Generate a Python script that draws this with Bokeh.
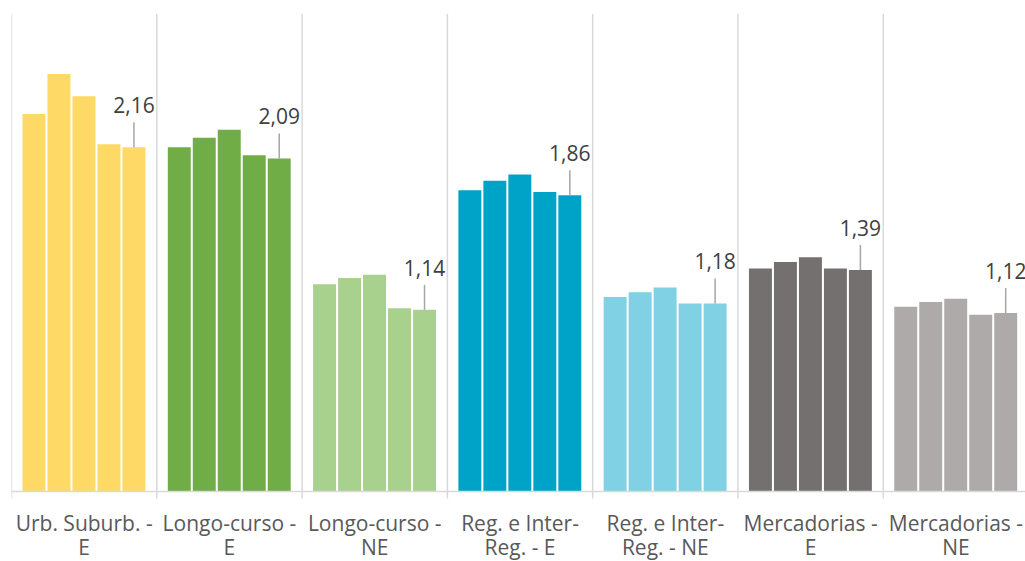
from bokeh.plotting import figure
from bokeh.models import ColumnDataSource, Range1d, Span
from bokeh.embed import file_html
from bokeh.resources import INLINE
from bokeh.core.properties import value

categories = ["Urb. Suburb. -\nE", "Longo-curso -\nE", "Longo-curso -\nNE",
              "Reg. e Inter-\nReg. - E", "Reg. e Inter-\nReg. - NE",
              "Mercadorias -\nE", "Mercadorias -\nNE"]
serie_1 = [2.37, 2.16, 1.30, 1.89, 1.22, 1.40, 1.16]
serie_2 = [2.62, 2.22, 1.34, 1.95, 1.25, 1.44, 1.19]
serie_3 = [2.48, 2.27, 1.36, 1.99, 1.28, 1.47, 1.21]
serie_4 = [2.18, 2.11, 1.15, 1.88, 1.18, 1.40, 1.11]
serie_5 = [2.16, 2.09, 1.14, 1.86, 1.18, 1.39, 1.12]
colors = ["#FFD966", "#70AD47", "#A9D18E", "#00A3C8", "#7FD1E3", "#757070", "#AEAAAA"]

series = [serie_1, serie_2, serie_3, serie_4, serie_5]
n_cat = len(categories)
n_ser = len(series)

Y_MAX = 3.0
FRAME_H = 561 - 13
AXIS_PX = 70                       # space below the axis line
ppu = (FRAME_H - AXIS_PX) / Y_MAX  # pixels per unit
y_lo = -AXIS_PX / ppu

p = figure(width=1025, height=561, output_backend="svg", toolbar_location=None,
           x_range=Range1d(0, 6.979), y_range=Range1d(y_lo, Y_MAX),
           x_axis_location=None, y_axis_location=None,
           min_border_left=11, min_border_right=0,
           min_border_top=13, min_border_bottom=0)
p.outline_line_color = None
p.background_fill_color = "white"
p.border_fill_color = "white"
p.xgrid.grid_line_color = None
p.ygrid.grid_line_color = None

# category separators (grid lines with tick marks below the axis)
bounds = list(range(n_cat + 1))
tick = 7 / ppu
p.segment(x0=bounds, y0=[-tick] * len(bounds), x1=bounds, y1=[Y_MAX] * len(bounds),
          line_color="#D9D9D9", line_width=1.5)
p.add_layout(Span(location=0, dimension="width", line_color="#D9D9D9", line_width=1.5))

# bar geometry inside each category (fractions of the category width)
pad = 0.0757
step = 0.172
bw = 0.158

xs, tops, cols = [], [], []
for i in range(n_cat):
    for j, s in enumerate(series):
        xs.append(i + pad + bw / 2 + j * step)
        tops.append(s[i])
        cols.append(colors[i])
src = ColumnDataSource(dict(x=xs, top=tops, color=cols))
p.vbar(x="x", top="top", width=bw, bottom=0, fill_color="color", line_color=None, source=src)

# data labels on the last bar of each category
lx = [i + pad + bw / 2 + (n_ser - 1) * step for i in range(n_cat)]
ly = serie_5
ltxt = [f"{v:.2f}".replace(".", ",") for v in serie_5]
lead = 25 / ppu
lsrc = ColumnDataSource(dict(x=lx, y=ly, y1=[v + lead for v in ly], t=ltxt))
p.segment(x0="x", y0="y", x1="x", y1="y1", line_color="#A6A6A6", line_width=1.5, source=lsrc)
p.text(x="x", y="y", text="t", source=lsrc, y_offset=-42, text_align="center",
       text_baseline="alphabetic", text_font=value("Open Sans"), text_font_size="21px",
       text_color="#404040")

# category labels (two lines) below the axis
centers = [i + 0.5 for i in range(n_cat)]
line1 = [c.split("\n")[0] for c in categories]
line2 = [c.split("\n")[1] for c in categories]
csrc = ColumnDataSource(dict(x=centers, y=[0] * n_cat, l1=line1, l2=line2))
for col, off in (("l1", 31), ("l2", 55)):
    p.text(x="x", y="y", text=col, source=csrc, y_offset=off, text_align="center",
           text_baseline="alphabetic", text_font=value("Open Sans"), text_font_size="21px",
           text_color="#595959")

open("out.html", "w").write(file_html(p, INLINE))
